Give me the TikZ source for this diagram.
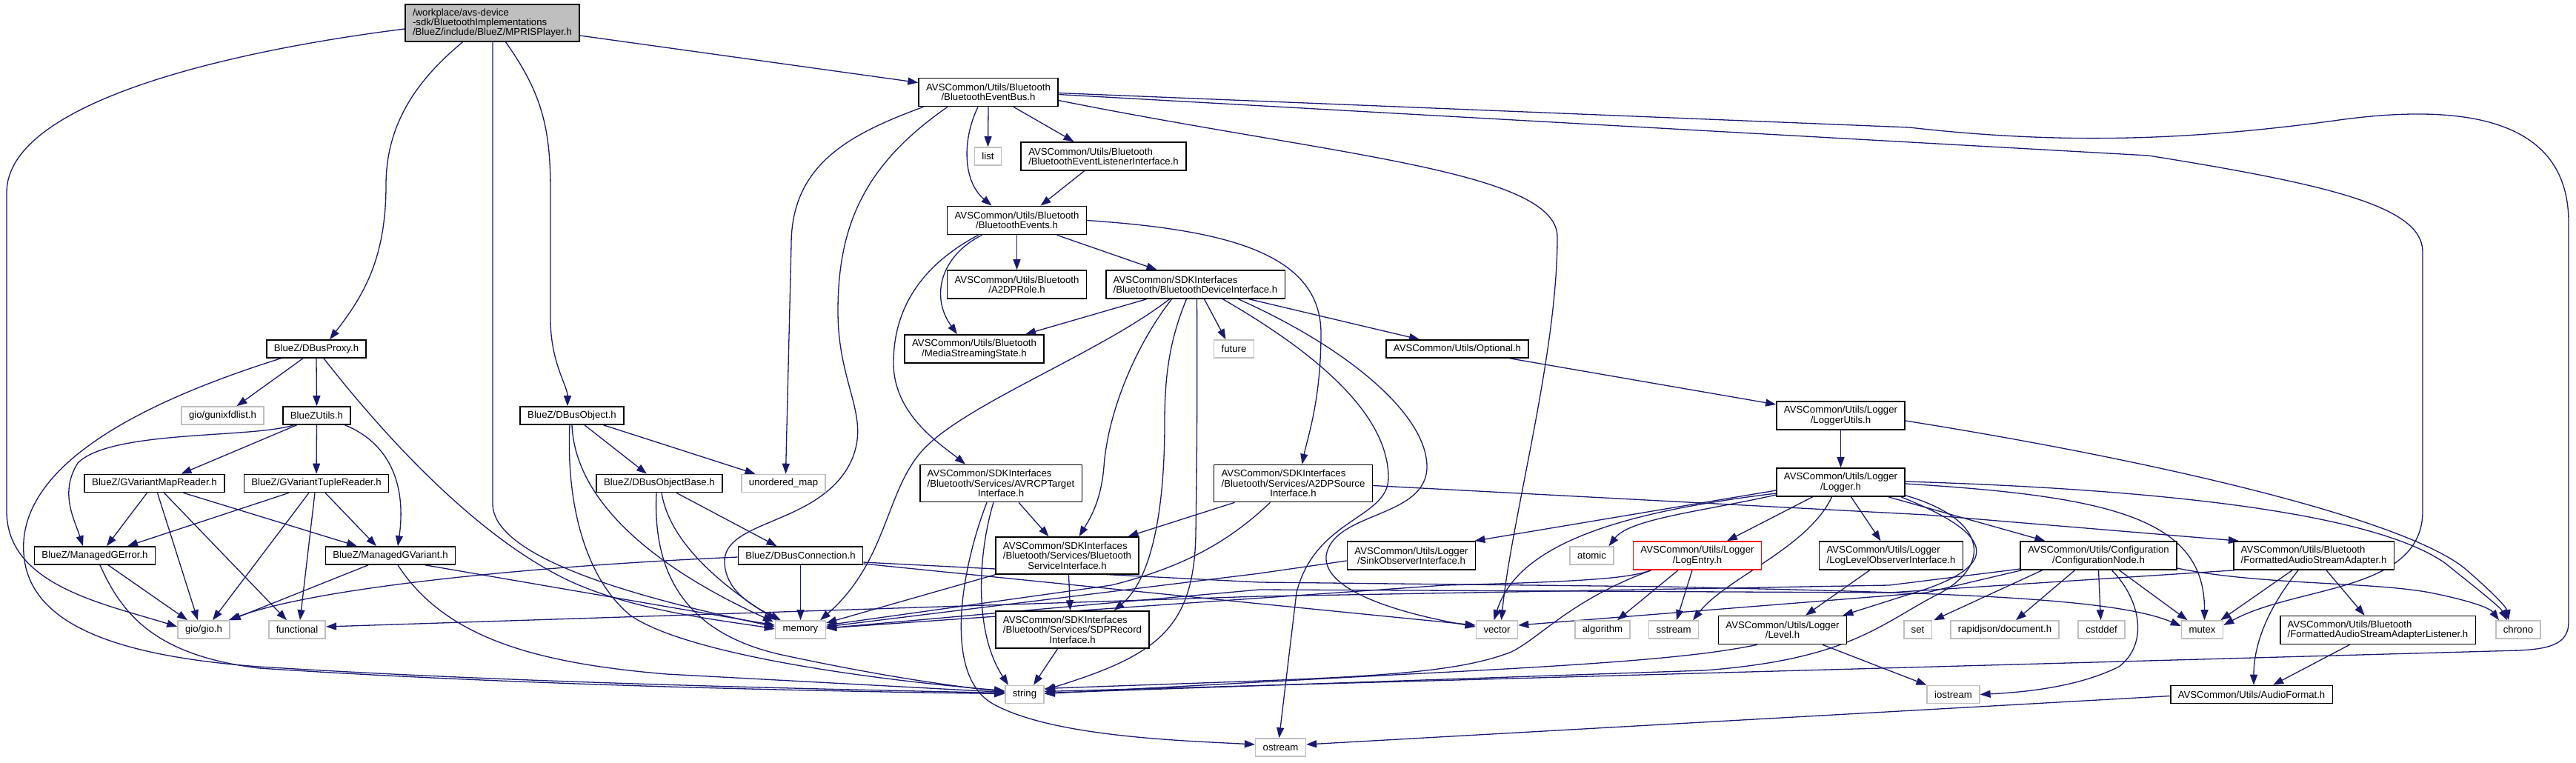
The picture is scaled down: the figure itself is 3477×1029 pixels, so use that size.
\documentclass[tikz,border=0pt]{standalone}
\usepackage{fontspec}
\setmainfont{Liberation Sans}
\usetikzlibrary{arrows.meta,calc}
\definecolor{edgeblue}{HTML}{191970}
\definecolor{sysgray}{HTML}{BFBFBF}
\newcommand\lfline[2]{\rlap{#1}\phantom{#2}}
\pgfdeclarelayer{edges}
\pgfsetlayers{edges,main}

\begin{document}
\begin{tikzpicture}[x=1pt,y=-1pt,
    every node/.style={font=\fontsize{13.2}{13.3}\selectfont, inner xsep=10pt, inner ysep=2pt,
      minimum height=24pt, line width=1.6pt, align=center},
    hdr/.style={draw=black, fill=white},
    sys/.style={draw=sysgray, fill=white},
    root/.style={draw=black, fill=sysgray, minimum height=50pt, align=left},
    two/.style={minimum height=38pt},
    three/.style={minimum height=50pt},
    dep/.style={draw=edgeblue, line width=1.3pt, -{Triangle[length=14pt,width=10pt]}}]
  \useasboundingbox (0,0) rectangle (3477,1029);

  % headers
  \node[root] (main) at (664.5,31) {/workplace/avs-device\\-sdk/BluetoothImplementations\\/BlueZ/include/BlueZ/MPRISPlayer.h};
  \node[hdr, two] (bus) at (1334,124.5) {AVSCommon/Utils/Bluetooth\\/BluetoothEventBus.h};
  \node[sys] (list) at (1333.5,211) {list};
  \node[hdr, two, align=left] (listener) at (1489.5,211) {AVSCommon/Utils/Bluetooth\\/BluetoothEventListenerInterface.h};
  \node[hdr, two] (events) at (1372.5,297.5) {AVSCommon/Utils/Bluetooth\\/BluetoothEvents.h};
  \node[hdr, two] (a2dprole) at (1372.5,384) {AVSCommon/Utils/Bluetooth\\/A2DPRole.h};
  \node[hdr, two, align=left] (devif) at (1613.5,384) {AVSCommon/SDKInterfaces\\/Bluetooth/BluetoothDeviceInterface.h};
  \node[hdr] (proxy) at (427,471) {BlueZ/DBusProxy.h};
  \node[hdr, two] (mss) at (1315,471) {AVSCommon/Utils/Bluetooth\\/MediaStreamingState.h};
  \node[sys] (future) at (1665.5,471) {future};
  \node[hdr] (optional) at (1967,471) {AVSCommon/Utils/Optional.h};
  \node[sys] (unixfd) at (300.5,561) {gio/gunixfdlist.h};
  \node[hdr] (utils) at (427.5,561) {BlueZUtils.h};
  \node[hdr] (dobj) at (772,561) {BlueZ/DBusObject.h};
  \node[hdr, two] (lutils) at (2484.5,561) {AVSCommon/Utils/Logger\\/LoggerUtils.h};
  \node[hdr] (mapr) at (208.5,652.5) {BlueZ/GVariantMapReader.h};
  \node[hdr] (tupr) at (427,652.5) {BlueZ/GVariantTupleReader.h};
  \node[hdr] (dbase) at (890,652.5) {BlueZ/DBusObjectBase.h};
  \node[sys] (umap) at (1057.5,652.5) {unordered\_map};
  \node[hdr, three] (avrcp) at (1351,652.5) {\lfline{AVSCommon/SDKInterfaces}{/Bluetooth/Services/AVRCPTarget}\\/Bluetooth/Services/AVRCPTarget\\Interface.h};
  \node[hdr, three] (a2dpsrc) at (1745.5,652.5) {\lfline{AVSCommon/SDKInterfaces}{/Bluetooth/Services/A2DPSource}\\/Bluetooth/Services/A2DPSource\\Interface.h};
  \node[hdr, two] (logger) at (2484.5,651) {AVSCommon/Utils/Logger\\/Logger.h};
  \node[hdr] (gerr) at (128,750) {BlueZ/ManagedGError.h};
  \node[hdr] (gvar) at (527,750) {BlueZ/ManagedGVariant.h};
  \node[hdr] (conn) at (1080.5,750) {BlueZ/DBusConnection.h};
  \node[hdr, three] (svc) at (1440.5,750) {\lfline{AVSCommon/SDKInterfaces}{/Bluetooth/Services/Bluetooth}\\/Bluetooth/Services/Bluetooth\\ServiceInterface.h};
  \node[hdr, two] (sink) at (1905,750) {AVSCommon/Utils/Logger\\/SinkObserverInterface.h};
  \node[sys] (atomic) at (2148.5,750) {atomic};
  \node[hdr, two, draw=red] (logentry) at (2291,750) {AVSCommon/Utils/Logger\\/LogEntry.h};
  \node[hdr, two, align=left] (loglevel) at (2552.5,750) {AVSCommon/Utils/Logger\\/LogLevelObserverInterface.h};
  \node[hdr, two] (confnode) at (2832.5,750) {AVSCommon/Utils/Configuration\\/ConfigurationNode.h};
  \node[hdr, two, align=left] (fasa) at (3123,750) {AVSCommon/Utils/Bluetooth\\/FormattedAudioStreamAdapter.h};
  \node[sys] (gio) at (275,850) {gio/gio.h};
  \node[sys] (func) at (401,850) {functional};
  \node[sys] (memory) at (1080.5,850) {memory};
  \node[hdr, three] (sdp) at (1447.5,850) {\lfline{AVSCommon/SDKInterfaces}{/Bluetooth/Services/SDPRecord}\\/Bluetooth/Services/SDPRecord\\Interface.h};
  \node[sys] (vector) at (2020.5,850) {vector};
  \node[sys] (algorithm) at (2163,850) {algorithm};
  \node[sys] (sstream) at (2259,850) {sstream};
  \node[hdr, two] (level) at (2406,850.5) {AVSCommon/Utils/Logger\\/Level.h};
  \node[sys] (set) at (2588.5,850) {set};
  \node[sys] (rapidjson) at (2706,850) {rapidjson/document.h};
  \node[sys] (cstddef) at (2836.5,850) {cstddef};
  \node[sys] (mutex) at (2972.5,850) {mutex};
  \node[hdr, two, align=left] (fasal) at (3209.5,850.5) {AVSCommon/Utils/Bluetooth\\/FormattedAudioStreamAdapterListener.h};
  \node[sys] (chrono) at (3399,850) {chrono};
  \node[sys] (string) at (1383,937.5) {string};
  \node[sys] (iostream) at (2636.5,937.5) {iostream};
  \node[hdr] (audiofmt) at (3039,937.5) {AVSCommon/Utils/AudioFormat.h};
  \node[sys] (ostream) at (1728.5,1009) {ostream};

  \begin{pgfonlayer}{edges}
  % MPRISPlayer.h
  \draw[dep] ($(main.west)+(0,8)$) .. controls (300,70) and (9,140) .. (9,260) -- (9,690) .. controls (9,790) and (140,815) .. ($(gio.west)+(0,-4)$);
  \draw[dep] ($(main.south)+(-40,0)$) .. controls (560,110) and (521,170) .. (521,250) .. controls (521,350) and (490,400) .. ($(proxy.north)+(18,0)$);
  \draw[dep] ($(main.south)+(0.5,0)$) -- (665,680) .. controls (665,760) and (900,815) .. ($(memory.west)+(0,-4)$);
  \draw[dep] ($(main.south)+(18,0)$) .. controls (735,130) and (743,180) .. (743,260) -- (743,430) .. controls (743,490) and (766,520) .. ($(dobj.north)+(-6,0)$);
  \draw[dep] ($(main.east)+(0,17)$) -- ($(bus.west)+(0,-13)$);

  % BluetoothEventBus.h
  \draw[dep] ($(bus.south west)+(7,0)$) .. controls (1150,180) and (1068,220) .. (1068,330) -- ($(umap.north)+(3,0)$);
  \draw[dep] ($(bus.south)+(-55,0)$) .. controls (1170,220) and (1131,300) .. (1131,420) .. controls (1131,520) and (1175,560) .. (1150,620) .. controls (1110,710) and (975,700) .. (978,760) .. controls (980,800) and (1020,820) .. ($(memory.north west)+(8,0)$);
  \draw[dep] ($(bus.south)+(-14,0)$) .. controls (1298,190) and (1300,245) .. ($(events.north)+(-34,0)$);
  \draw[dep] (bus.south) -- (list.north);
  \draw[dep] ($(bus.south)+(34,0)$) -- ($(listener.north)+(-40,0)$);
  \draw[dep] ($(bus.east)+(0,11)$) .. controls (1800,210) and (2102,230) .. (2102,320) .. controls (2102,480) and (2040,700) .. ($(vector.north)+(6,0)$);
  \draw[dep] ($(bus.east)+(0,3)$) -- (2900,210) .. controls (3150,250) and (3270,280) .. (3270,340) -- (3270,690) .. controls (3270,800) and (3100,790) .. ($(mutex.east)+(0,-6)$);
  \draw[dep] ($(bus.east)+(0,1)$) -- (2577,172) .. controls (2780,195) and (2950,190) .. (3150,163) .. controls (3380,130) and (3467,190) .. (3467,300) -- (3467,840) .. controls (3467,870) and (3440,876) .. (3400,878) -- ($(string.east)+(0,-4)$);
  \draw[dep] ($(listener.south)+(-26,0)$) -- ($(events.north)+(32,0)$);

  % BluetoothEvents.h
  \draw[dep] (events.south) -- (a2dprole.north);
  \draw[dep] ($(events.south)+(54,0)$) -- ($(devif.north)+(-52,0)$);
  \draw[dep] ($(events.south)+(-47,0)$) .. controls (1270,345) and (1255,400) .. ($(mss.north)+(-23,0)$);
  \draw[dep] ($(events.south)+(-52,0)$) .. controls (1240,360) and (1206,420) .. (1206,490) .. controls (1206,560) and (1270,600) .. ($(avrcp.north)+(-48,0)$);
  \draw[dep] (events.east) .. controls (1650,310) and (1783,340) .. (1783,450) .. controls (1783,540) and (1765,590) .. ($(a2dpsrc.north)+(12,0)$);

  % BluetoothDeviceInterface.h
  \draw[dep] ($(devif.south)+(-66,0)$) -- ($(mss.north)+(69,0)$);
  \draw[dep] ($(devif.south)+(12,0)$) -- ($(future.north)+(-11,0)$);
  \draw[dep] ($(devif.south east)+(-49,0)$) -- ($(optional.north)+(-51,0)$);
  \draw[dep] ($(devif.south)+(37,0)$) .. controls (1800,490) and (1874,570) .. (1874,645) .. controls (1874,700) and (1775,700) .. (1750,800) -- ($(ostream.north)+(-2,0)$);
  \draw[dep] ($(devif.south)+(58,0)$) .. controls (1820,470) and (1926,560) .. (1926,630) .. controls (1926,700) and (1800,690) .. (1790,750) .. controls (1785,800) and (1900,830) .. ($(vector.west)+(0,-4)$);
  \draw[dep] ($(devif.south)+(-35,0)$) .. controls (1480,480) and (1290,550) .. (1240,614) .. controls (1195,670) and (1195,760) .. ($(memory.north east)+(-8,0)$);
  \draw[dep] ($(devif.south)+(-32,0)$) .. controls (1530,470) and (1495,560) .. (1490,630) .. controls (1486,680) and (1468,705) .. ($(svc.north)+(16,0)$);
  \draw[dep] ($(devif.south)+(-12,0)$) .. controls (1578,460) and (1572,510) .. (1572,570) .. controls (1572,720) and (1545,790) .. ($(sdp.north)+(56,0)$);
  \draw[dep] ($(devif.south)+(2,0)$) .. controls (1616,480) and (1616,600) .. (1614,720) .. controls (1612,850) and (1560,885) .. ($(string.east)+(0,-6)$);

  % services
  \draw[dep] ($(avrcp.south)+(24,0)$) -- ($(svc.north)+(-25,0)$);
  \draw[dep] ($(avrcp.south)+(-10,0)$) .. controls (1322,740) and (1312,850) .. ($(string.north)+(-22,0)$);
  \draw[dep] ($(avrcp.south)+(-19,0)$) .. controls (1300,760) and (1270,910) .. (1340,950) .. controls (1420,995) and (1600,1000) .. ($(ostream.west)+(0,-4)$);
  \draw[dep] ($(a2dpsrc.south)+(-79,0)$) -- ($(svc.north)+(82,0)$);
  \draw[dep] ($(a2dpsrc.south)+(-31,0)$) .. controls (1660,730) and (1600,765) .. (1500,790) -- ($(memory.east)+(0,-6)$);
  \draw[dep] ($(a2dpsrc.east)+(0,3)$) -- (2600,695) -- ($(fasa.north west)+(8,0)$);
  \draw[dep] ($(svc.south)+(2,0)$) -- ($(sdp.north)+(-3,0)$);
  \draw[dep] (svc.south west) -- ($(memory.east)+(0,-9)$);
  \draw[dep] ($(sdp.south)+(-20,0)$) -- ($(string.north)+(12,0)$);

  % BlueZ headers
  \draw[dep] ($(proxy.south)+(-18,0)$) -- ($(unixfd.north)+(19,0)$);
  \draw[dep] (proxy.south) -- (utils.north);
  \draw[dep] ($(proxy.south)+(10,0)$) .. controls (520,590) and (640,720) .. (760,780) .. controls (850,825) and (980,838) .. ($(memory.west)+(0,-1)$);
  \draw[dep] ($(proxy.south west)+(20,0)$) .. controls (200,540) and (40,620) .. (32,730) .. controls (25,840) and (150,885) .. (350,900) .. controls (700,922) and (1100,930) .. ($(string.west)+(0,-2)$);
  \draw[dep] ($(utils.south)+(-31,0)$) .. controls (340,592) and (150,580) .. (105,625) .. controls (80,665) and (100,700) .. ($(gerr.north)+(-16,0)$);
  \draw[dep] ($(utils.south)+(-27,0)$) -- ($(mapr.north)+(36,0)$);
  \draw[dep] (utils.south) -- (tupr.north);
  \draw[dep] ($(utils.south)+(38,0)$) .. controls (530,600) and (548,660) .. ($(gvar.north)+(10,0)$);
  \draw[dep] ($(mapr.south)+(-10,0)$) -- ($(gerr.north)+(16,0)$);
  \draw[dep] ($(mapr.south)+(4,0)$) -- ($(gio.north)+(-8,0)$);
  \draw[dep] ($(mapr.south)+(13,0)$) -- ($(func.north)+(-14,0)$);
  \draw[dep] ($(mapr.south)+(39,0)$) -- ($(gvar.north)+(-45,0)$);
  \draw[dep] ($(tupr.south)+(-37,0)$) -- ($(gerr.north)+(44,0)$);
  \draw[dep] ($(tupr.south)+(-10,0)$) -- ($(gio.north)+(12,0)$);
  \draw[dep] ($(tupr.south)+(-2,0)$) -- ($(func.north)+(4,0)$);
  \draw[dep] ($(tupr.south)+(12,0)$) -- ($(gvar.north)+(-19,0)$);
  \draw[dep] ($(gerr.south)+(18,0)$) -- ($(gio.north)+(-22,0)$);
  \draw[dep] ($(gerr.south)+(7,0)$) .. controls (165,830) and (210,885) .. (350,902) .. controls (700,925) and (1100,933) .. ($(string.west)+(0,-1)$);
  \draw[dep] ($(gvar.south)+(-30,0)$) -- (gio.north east);
  \draw[dep] ($(gvar.south)+(47,0)$) -- ($(memory.west)+(0,-6)$);
  \draw[dep] ($(gvar.south)+(10,0)$) .. controls (600,860) and (720,895) .. (900,910) -- ($(string.west)+(0,-3)$);
  \draw[dep] ($(dobj.south)+(17,0)$) -- ($(dbase.north)+(-17,0)$);
  \draw[dep] ($(dobj.south east)+(-28,0)$) -- ($(umap.north)+(-38,0)$);
  \draw[dep] (dobj.south) .. controls (776,670) and (870,760) .. ($(memory.north west)+(-2,2)$);
  \draw[dep] ($(dobj.south)+(-3,0)$) .. controls (764,680) and (790,780) .. (850,830) .. controls (920,880) and (1150,915) .. ($(string.west)+(0,-5)$);
  \draw[dep] ($(dbase.south)+(23,0)$) -- ($(conn.north)+(-32,0)$);
  \draw[dep] ($(dbase.south)+(3,0)$) .. controls (905,740) and (990,800) .. ($(memory.north west)+(2,0)$);
  \draw[dep] ($(dbase.south)+(-4,0)$) .. controls (880,790) and (940,860) .. (1060,885) .. controls (1200,915) and (1300,928) .. ($(string.west)+(0,-4)$);
  \draw[dep] (conn.south) -- (memory.north);
  \draw[dep] ($(conn.west)+(0,2)$) .. controls (700,765) and (420,795) .. ($(gio.north east)+(-2,0)$);
  \draw[dep] ($(conn.east)+(0,9)$) -- (1700,786) -- (2250,792) .. controls (2600,800) and (2850,805) .. ($(mutex.west)+(0,-5)$);
  \draw[dep] ($(conn.east)+(0,11)$) -- (1700,815) -- ($(vector.west)+(0,-6)$);

  % logger headers
  \draw[dep] ($(optional.south east)+(-26,0)$) -- ($(lutils.west)+(0,-15)$);
  \draw[dep] (lutils.south) -- (logger.north);
  \draw[dep] ($(lutils.east)+(0,7)$) .. controls (2900,620) and (3250,700) .. (3330,770) .. controls (3370,805) and (3383,820) .. ($(chrono.north)+(-13,0)$);
  \draw[dep] ($(logger.west)+(0,11)$) -- ($(sink.north east)+(-2,0)$);
  \draw[dep] ($(logger.west)+(0,15)$) .. controls (2200,690) and (2050,730) .. ($(vector.north)+(-4,0)$);
  \draw[dep] ($(logger.west)+(0,17)$) .. controls (2300,690) and (2200,700) .. ($(atomic.north)+(23,0)$);
  \draw[dep] ($(logger.south)+(-38,0)$) -- ($(logentry.north)+(40,0)$);
  \draw[dep] ($(logger.south)+(-12,0)$) .. controls (2440,740) and (2330,780) .. ($(sstream.north)+(26,0)$);
  \draw[dep] ($(logger.south)+(14,0)$) -- ($(loglevel.north)+(-14,0)$);
  \draw[dep] ($(logger.south east)+(-23,0)$) -- ($(confnode.north west)+(34,0)$);
  \draw[dep] ($(logger.east)+(0,2)$) .. controls (2850,670) and (2976,700) .. ($(mutex.north)+(3,0)$);
  \draw[dep] ($(logger.east)+(0,-1)$) .. controls (2900,660) and (3200,690) .. (3300,760) .. controls (3350,800) and (3375,820) .. ($(chrono.north)+(-15,0)$);
  \draw[dep] ($(logger.south east)+(0,-2)$) .. controls (2680,700) and (2690,760) .. (2620,800) .. controls (2540,840) and (2500,890) .. (2300,905) -- ($(string.east)+(0,-2)$);
  \draw[dep] ($(logger.south east)+(-6,0)$) .. controls (2690,720) and (2700,760) .. (2600,795) -- ($(level.north east)+(-6,0)$);
  \draw[dep] ($(logentry.south)+(-26,0)$) -- ($(algorithm.north)+(20,0)$);
  \draw[dep] ($(logentry.south)+(-7,0)$) -- ($(sstream.north)+(4,0)$);
  \draw[dep] ($(logentry.south west)+(25,0)$) .. controls (2120,810) and (2080,860) .. (2040,880) .. controls (1950,915) and (1800,915) .. ($(string.east)+(0,-8)$);
  \draw[dep] ($(logentry.south west)+(25,0)$) .. controls (2200,780) and (2150,785) .. (1950,790) -- ($(memory.east)+(0,-2)$);
  \draw[dep] ($(sink.west)+(0,7)$) -- (1700,774) -- ($(memory.east)+(0,-4)$);
  \draw[dep] ($(loglevel.south)+(-29,0)$) -- ($(level.north)+(31,0)$);
  \draw[dep] ($(level.south)+(-34,0)$) .. controls (2300,885) and (2200,895) .. (1900,910) -- ($(string.east)+(0,-1)$);
  \draw[dep] ($(level.south)+(54,0)$) -- (iostream.north west);

  % configuration and audio
  \draw[dep] ($(confnode.south west)+(2,-2)$) -- (2550,790) -- (1700,805) -- ($(func.east)+(0,-4)$);
  \draw[dep] ($(confnode.south west)+(2,0)$) -- (2600,800) -- ($(vector.east)+(0,-6)$);
  \draw[dep] ($(confnode.south west)+(30,0)$) -- ($(set.north east)+(2,0)$);
  \draw[dep] ($(confnode.south)+(-32,0)$) -- ($(rapidjson.north)+(15,0)$);
  \draw[dep] (confnode.south) -- ($(cstddef.north)+(-1,0)$);
  \draw[dep] ($(confnode.south)+(28,0)$) -- ($(mutex.north)+(-20,0)$);
  \draw[dep] ($(confnode.south)+(18,0)$) .. controls (2890,810) and (2900,870) .. (2860,900) .. controls (2800,930) and (2720,935) .. (iostream.east);
  \draw[dep] ($(confnode.east)+(0,17)$) .. controls (3050,790) and (3200,785) .. (3280,800) .. controls (3330,810) and (3360,820) .. ($(chrono.north west)+(5,0)$);
  \draw[dep] ($(fasa.south)+(-29,0)$) -- ($(mutex.north east)+(-4,0)$);
  \draw[dep] ($(fasa.south)+(-21,0)$) .. controls (3070,810) and (3042,860) .. ($(audiofmt.north)+(3,0)$);
  \draw[dep] ($(fasa.south)+(17,0)$) -- ($(fasal.north)+(-18,0)$);
  \draw[dep] ($(fasa.south west)+(2,0)$) -- (2550,800) -- (1700,796) -- ($(memory.east)+(0,-2)$);
  \draw[dep] ($(fasal.south)+(-38,0)$) -- ($(audiofmt.north)+(29,0)$);
  \draw[dep] ($(audiofmt.west)+(0,2)$) -- ($(ostream.east)+(0,-4)$);
  \end{pgfonlayer}
\end{tikzpicture}
\end{document}
